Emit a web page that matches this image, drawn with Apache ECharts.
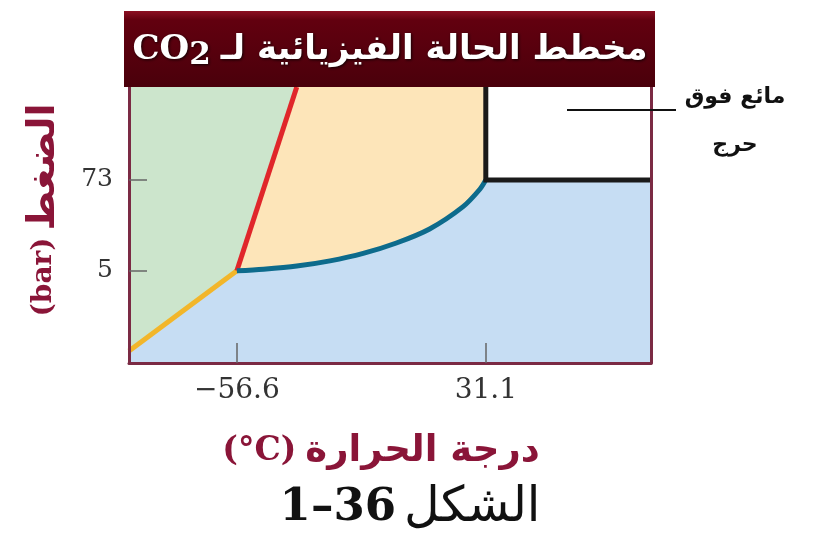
<!DOCTYPE html>
<html>
<head>
<meta charset="utf-8">
<script src="https://cdn.jsdelivr.net/npm/echarts@6/dist/echarts.min.js"></script>
<style>html,body{margin:0;padding:0;background:#fff}#c{width:816px;height:546px}</style>
</head>
<body>
<div id="c"></div>
<script>
// ---- data (temperature °C, pressure bar; schematic, non-linear axes flattened) ----
const xRange = [-94.6, 89.3];
const yRange = [-64, 142.5];
const xTicks = [-56.6, 31.1];
const yTicks = [5, 73];
const triplePoint = [-56.6, 5];
const criticalPoint = [31.1, 73];
const sublimationCurve = [[-94.6, -55], [-56.6, 5]];
const meltingCurve = [[-56.6, 5], [-35.5, 142.5]];
const vaporCurve = [[-56.6, 5], [-47.2, 6.2], [-35.5, 8.5], [-23.8, 12.4], [-12.1, 18], [-0.4, 25.8], [11.3, 36.3], [23.1, 53], [29.0, 66], [31.1, 73]];
const supercriticalEdge = [[31.1, 142.5], [31.1, 73], [89.3, 73]];
const titleArabic = 'مخطط الحالة الفيزيائية لـ';
const titleFormula = 'CO';
const yNameArabic = 'الضغط';
const yNameUnit = '(bar)';
const xNameArabic = 'درجة الحرارة';
const xNameUnit = '(°C)';
const annotationLines = ['مائع فوق', 'حرج'];
const captionArabic = 'الشكل';
const captionNumber = '1–36';

// ---- regions built from curves ----
const solidRegion = [sublimationCurve[0], triplePoint, meltingCurve[1], [xRange[0], yRange[1]]];
const liquidRegion = vaporCurve.concat([[criticalPoint[0], yRange[1]], meltingCurve[1]]);
const superRegion = [criticalPoint, [xRange[1], criticalPoint[1]], [xRange[1], yRange[1]], [criticalPoint[0], yRange[1]]];

const maroon = '#8a1538';
const frame = '#7b2a44';

function regionSeries(points, color) {
  return {
    type: 'custom', z: 1, silent: true, data: [0],
    renderItem: function (params, api) {
      return { type: 'polygon', shape: { points: points.map(p => api.coord(p)) }, style: { fill: color } };
    }
  };
}
function lineSeries(points, color, extra) {
  return Object.assign({
    type: 'line', z: 3, silent: true, symbol: 'none', data: points,
    lineStyle: { color: color, width: 5, cap: 'butt', join: 'miter' }
  }, extra || {});
}

const chart = echarts.init(document.getElementById('c'), null, { renderer: 'canvas' });
chart.setOption({
  animation: false,
  backgroundColor: '#ffffff',
  grid: { left: 129, right: 165, top: 87, bottom: 183, show: true, backgroundColor: '#c6ddf3', borderWidth: 0 },
  xAxis: {
    type: 'value', min: xRange[0], max: xRange[1], z: 6,
    axisLine: { show: true, onZero: false, lineStyle: { color: frame, width: 3 } },
    axisTick: { show: true, inside: true, length: 20, customValues: xTicks, lineStyle: { color: '#666', width: 1.5 } },
    axisLabel: { customValues: xTicks, margin: 14, fontFamily: 'DejaVu Serif', fontSize: 28, color: '#333',
      formatter: v => String(v).replace('-', '−') },
    splitLine: { show: false },
    name: '{u|' + xNameUnit + '}{a|' + xNameArabic + '}',
    nameLocation: 'middle', nameGap: 70,
    nameTextStyle: { padding: [0, 18, 0, 0], rich: {
      u: { fontFamily: 'DejaVu Serif', fontWeight: 'bold', fontSize: 33, color: maroon, padding: [0, 9, 0, 0] },
      a: { fontFamily: 'DejaVu Sans', fontWeight: 'bold', fontSize: 37, color: maroon } } }
  },
  yAxis: [{
    type: 'value', min: yRange[0], max: yRange[1], z: 6,
    axisLine: { show: true, onZero: false, lineStyle: { color: frame, width: 3 } },
    axisTick: { show: true, inside: true, length: 18, customValues: yTicks, lineStyle: { color: '#666', width: 1.5 } },
    axisLabel: { customValues: yTicks, margin: 16, fontFamily: 'DejaVu Serif', fontSize: 25, color: '#333' },
    splitLine: { show: false },
    name: '{u|' + yNameUnit + '}{a|' + yNameArabic + '}',
    nameLocation: 'middle', nameRotate: 90, nameGap: 66,
    nameTextStyle: { padding: [0, 0, 0, 30], rich: {
      u: { fontFamily: 'DejaVu Serif', fontWeight: 'bold', fontSize: 28, color: maroon, padding: [0, 7, 0, 0] },
      a: { fontFamily: 'DejaVu Sans', fontWeight: 'bold', fontSize: 38, color: maroon } } }
  }, {
    type: 'value', position: 'right', min: yRange[0], max: yRange[1], z: 6,
    axisLine: { show: true, onZero: false, lineStyle: { color: frame, width: 3 } },
    axisTick: { show: false }, axisLabel: { show: false }, splitLine: { show: false }
  }],
  graphic: [
    { type: 'rect', z: 100, shape: { x: 124, y: 11, width: 531, height: 76 },
      style: { fill: { type: 'linear', x: 0, y: 0, x2: 0, y2: 1, colorStops: [
        { offset: 0, color: '#8c0f22' }, { offset: 0.12, color: '#62000f' }, { offset: 1, color: '#4a000b' }] } } },
    { type: 'text', z: 101, x: 390, y: 50,
      style: { text: '{f|' + titleFormula + '}{s|2}{a|' + titleArabic + '}', textAlign: 'center', textVerticalAlign: 'middle',
        fill: '#fff', textShadowColor: 'rgba(0,0,0,0.8)', textShadowBlur: 3, textShadowOffsetX: 1, textShadowOffsetY: 1,
        rich: {
          f: { fontFamily: 'DejaVu Serif', fontWeight: 'bold', fontSize: 34, fill: '#fff' },
          s: { fontFamily: 'DejaVu Serif', fontWeight: 'bold', fontSize: 31, fill: '#fff', padding: [12, 10, 0, 0] },
          a: { fontFamily: 'DejaVu Sans', fontWeight: 'bold', fontSize: 34, fill: '#fff' } } } },
    { type: 'line', z: 50, shape: { x1: 567, y1: 110, x2: 676, y2: 110 }, style: { stroke: '#111', lineWidth: 2 } },
    { type: 'text', z: 50, x: 735, y: 97, style: { text: annotationLines[0], textAlign: 'center', textVerticalAlign: 'middle',
      fontFamily: 'DejaVu Sans', fontWeight: 'bold', fontSize: 22, fill: '#111' } },
    { type: 'text', z: 50, x: 735, y: 145, style: { text: annotationLines[1], textAlign: 'center', textVerticalAlign: 'middle',
      fontFamily: 'DejaVu Sans', fontWeight: 'bold', fontSize: 22, fill: '#111' } },
    { type: 'text', z: 50, x: 410, y: 508, style: { text: '{n|' + captionNumber + '}{a|' + captionArabic + '}', textAlign: 'center', textVerticalAlign: 'middle',
      rich: {
        n: { fontFamily: 'DejaVu Serif', fontWeight: 'bold', fontSize: 45, fill: '#111', padding: [0, 8, 0, 0] },
        a: { fontFamily: 'DejaVu Sans', fontSize: 49, fill: '#111' } } } }
  ],
  series: [
    regionSeries(solidRegion, '#cce5cc'),
    regionSeries(liquidRegion, '#fde5b9'),
    regionSeries(superRegion, '#ffffff'),
    lineSeries(sublimationCurve, '#f2b62a'),
    lineSeries(meltingCurve, '#e0262a'),
    lineSeries(vaporCurve, '#0d6b8c', { smooth: 0.3 }),
    lineSeries(supercriticalEdge, '#1a1a1a')
  ]
});
</script>
</body>
</html>
